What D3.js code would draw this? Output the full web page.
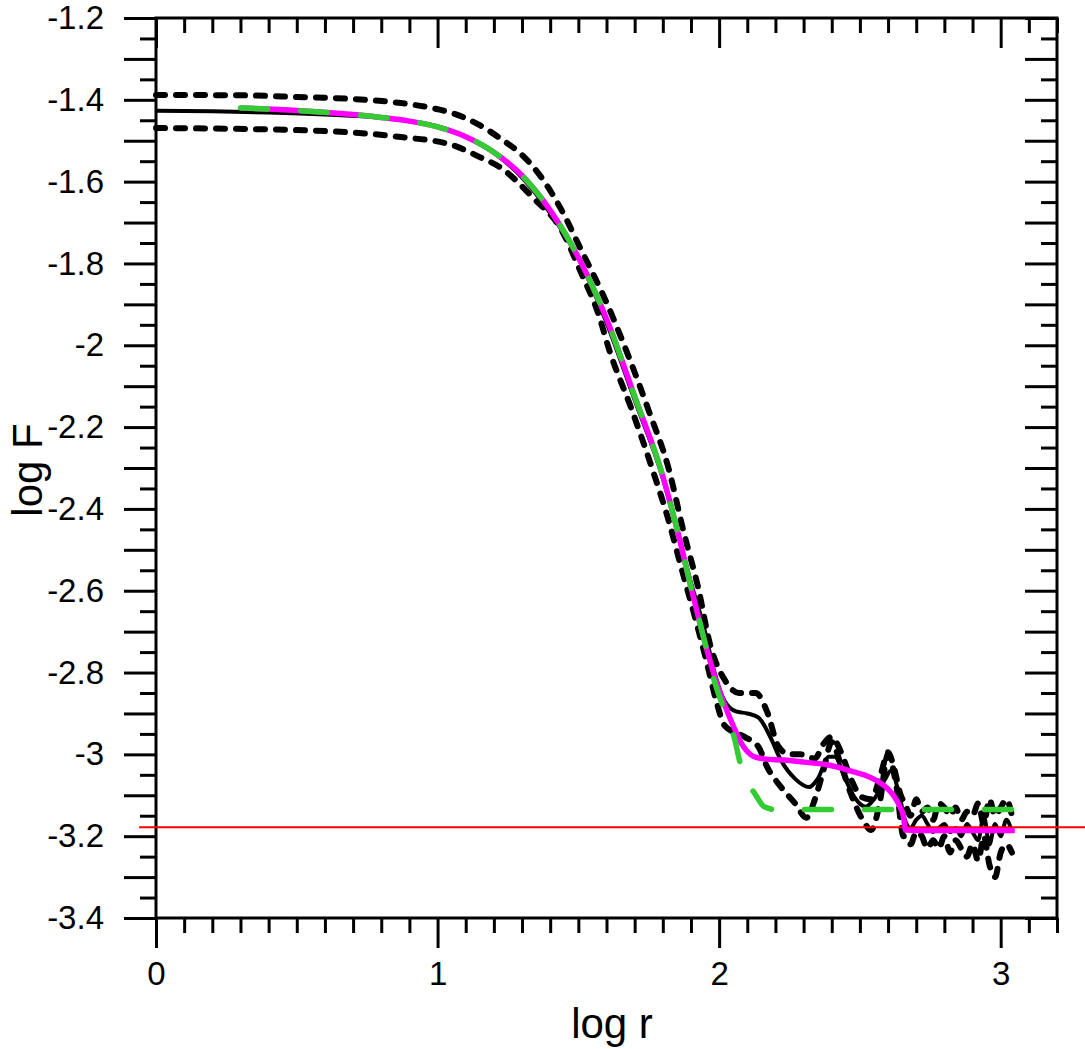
<!DOCTYPE html>
<html>
<head>
<meta charset="utf-8">
<script src="https://cdn.jsdelivr.net/npm/d3@7"></script>
<style>
  body { margin: 0; background: #fff; }
  svg { display: block; }
  text { font-family: "Liberation Sans", Arial, sans-serif; fill: #000; }
</style>
</head>
<body>
<script>
// ---- data ----
var yLabelTicks = [-1.2, -1.4, -1.6, -1.8, -2, -2.2, -2.4, -2.6, -2.8, -3, -3.2, -3.4];
var xLabelTicks = [0, 1, 2, 3];

var tailX = [2.66, 2.68, 2.70, 2.72, 2.74, 2.76, 2.78, 2.80, 2.82, 2.84, 2.86, 2.88, 2.90, 2.92, 2.94, 2.96, 2.98, 3.00, 3.02, 3.04];

// solid black
var centerX = [0, 0.2, 0.4, 0.6, 0.8, 0.9, 1.0, 1.1, 1.2, 1.3, 1.4, 1.5, 1.6, 1.7, 1.8, 1.85, 1.9, 1.95, 1.98, 2.02, 2.06, 2.1, 2.14, 2.18, 2.22, 2.27, 2.32, 2.35, 2.39, 2.41, 2.45, 2.48, 2.52, 2.55, 2.59, 2.61, 2.64].concat(tailX);
var centerY = [-1.427, -1.428, -1.431, -1.436, -1.444, -1.452, -1.465, -1.49, -1.53, -1.59, -1.677, -1.787, -1.945, -2.134, -2.325, -2.45, -2.58, -2.7, -2.79, -2.87, -2.895, -2.9, -2.91, -2.955, -3.015, -3.06, -3.08, -3.06, -3.006, -3.006, -3.063, -3.104, -3.128, -3.11, -3.06, -3.04, -3.1,
  -3.16, -3.18, -3.16, -3.15, -3.17, -3.19, -3.18, -3.17, -3.19, -3.18, -3.2, -3.17, -3.19, -3.21, -3.15, -3.22, -3.17, -3.2, -3.16, -3.19];

// upper dotted
var upperX = [0, 0.3, 0.5, 0.7, 0.87, 1.0, 1.05, 1.15, 1.22, 1.3, 1.34, 1.44, 1.51, 1.59, 1.68, 1.75, 1.82, 1.875, 1.925, 1.97, 2.02, 2.07, 2.13, 2.17, 2.21, 2.25, 2.29, 2.34, 2.37, 2.4, 2.43, 2.47, 2.505, 2.54, 2.575, 2.6, 2.62, 2.645].concat(tailX);
var upperY = [-1.388, -1.389, -1.393, -1.398, -1.408, -1.423, -1.432, -1.462, -1.493, -1.535, -1.564, -1.669, -1.767, -1.88, -2.03, -2.16, -2.3, -2.459, -2.591, -2.737, -2.818, -2.85, -2.85, -2.895, -2.98, -3.0, -3.0, -3.01, -2.975, -2.957, -2.99, -3.063, -3.104, -3.11, -3.046, -2.995, -3.03, -3.1,
  -3.12, -3.15, -3.11, -3.14, -3.13, -3.16, -3.12, -3.13, -3.15, -3.13, -3.16, -3.14, -3.15, -3.12, -3.17, -3.11, -3.15, -3.13, -3.11, -3.15];

// lower dotted
var lowerX = [0, 0.5, 0.87, 1.05, 1.15, 1.22, 1.34, 1.44, 1.51, 1.57, 1.61, 1.69, 1.76, 1.82, 1.865, 1.91, 1.96, 1.99, 2.02, 2.09, 2.14, 2.17, 2.22, 2.27, 2.31, 2.34, 2.37, 2.4, 2.43, 2.47, 2.51, 2.54, 2.57, 2.6, 2.63, 2.655].concat(tailX);
var lowerY = [-1.469, -1.474, -1.491, -1.51, -1.54, -1.564, -1.64, -1.718, -1.823, -1.921, -2.012, -2.158, -2.297, -2.427, -2.542, -2.654, -2.786, -2.87, -2.93, -2.957, -2.982, -3.03, -3.08, -3.12, -3.155, -3.11, -3.04, -2.97, -3.02, -3.1, -3.16, -3.185, -3.12, -3.0, -3.08, -3.2,
  -3.2, -3.22, -3.19, -3.2, -3.23, -3.21, -3.23, -3.2, -3.24, -3.21, -3.23, -3.25, -3.22, -3.26, -3.2, -3.27, -3.3, -3.24, -3.22, -3.24];

// magenta fit
var fitX = [0.3, 0.5, 0.7, 0.8, 0.9, 1.0, 1.1, 1.2, 1.3, 1.4, 1.5, 1.6, 1.7, 1.8, 1.854, 1.9, 1.947, 1.996, 2.02, 2.05, 2.078, 2.1, 2.125, 2.16, 2.231, 2.3, 2.388, 2.48, 2.53, 2.566, 2.6, 2.623, 2.64, 2.655, 2.662, 2.7, 3.05];
var fitY = [-1.42, -1.426, -1.436, -1.443, -1.452, -1.466, -1.49, -1.528, -1.585, -1.67, -1.785, -1.935, -2.125, -2.32, -2.459, -2.591, -2.72, -2.835, -2.88, -2.93, -2.972, -2.993, -3.006, -3.011, -3.014, -3.019, -3.026, -3.043, -3.054, -3.067, -3.085, -3.104, -3.125, -3.153, -3.185, -3.186, -3.186];

// green dashed model
var modelX = [0.3, 0.5, 0.7, 0.8, 0.9, 1.0, 1.1, 1.2, 1.3, 1.4, 1.5, 1.6, 1.7, 1.8, 1.854, 1.9, 1.947, 1.982, 2.018, 2.053, 2.078, 2.1, 2.125, 2.16, 2.21, 2.3, 3.05];
var modelY = [-1.42, -1.426, -1.436, -1.443, -1.452, -1.466, -1.49, -1.528, -1.585, -1.67, -1.785, -1.935, -2.125, -2.32, -2.459, -2.591, -2.72, -2.818, -2.891, -2.957, -3.03, -3.07, -3.094, -3.128, -3.136, -3.135, -3.135];

var refLevel = -3.178;
var refSpan = [-0.06, 3.3];

// ---- layout ----
var W = 1085, H = 1049;
var x = d3.scaleLinear().domain([0, 3.2]).range([156, 1057]);
var y = d3.scaleLinear().domain([-1.2, -3.4]).range([18, 918]);

var svg = d3.select('body').append('svg')
  .attr('width', W)
  .attr('height', H);

function zip(xs, ys) { return xs.map(function(v, i) { return [v, ys[i]]; }); }

var line = d3.line()
  .x(function(d) { return x(d[0]); })
  .y(function(d) { return y(d[1]); })
  .curve(d3.curveMonotoneX);

var tickFont = '33px';

// minor / major tick value lists
var yMajor = d3.range(0, 23).map(function(i) { return +(-1.2 - i * 0.1).toFixed(2); });
var yMinor = d3.range(0, 22).map(function(i) { return +(-1.25 - i * 0.1).toFixed(2); });
var xMinor = d3.range(0, 33).map(function(i) { return +(i * 0.1).toFixed(2); }).filter(function(v) { return v % 1 !== 0; });

function fmtY(d) {
  return yLabelTicks.indexOf(d) >= 0 ? String(d) : '';
}

function styleAxis(g) {
  g.select('.domain').remove();
  g.selectAll('line').attr('stroke', '#000').attr('stroke-width', 3);
  g.selectAll('text').style('font-size', tickFont).attr('fill', '#000');
}

// left axis (ticks outward)
svg.append('g').attr('transform', 'translate(156,0)')
  .call(d3.axisLeft(y).tickValues(yMajor).tickSize(32).tickPadding(20).tickFormat(fmtY))
  .call(styleAxis);
svg.append('g').attr('transform', 'translate(156,0)')
  .call(d3.axisLeft(y).tickValues(yMinor).tickSize(16).tickFormat(''))
  .call(styleAxis);

// right axis (ticks inward)
svg.append('g').attr('transform', 'translate(1057,0)')
  .call(d3.axisLeft(y).tickValues(yMajor).tickSize(32).tickFormat(''))
  .call(styleAxis);
svg.append('g').attr('transform', 'translate(1057,0)')
  .call(d3.axisLeft(y).tickValues(yMinor).tickSize(16).tickFormat(''))
  .call(styleAxis);

// bottom axis (ticks outward)
svg.append('g').attr('transform', 'translate(0,918)')
  .call(d3.axisBottom(x).tickValues(xLabelTicks).tickSize(30).tickPadding(14).tickFormat(d3.format('d')))
  .call(styleAxis);
svg.append('g').attr('transform', 'translate(0,918)')
  .call(d3.axisBottom(x).tickValues(xMinor).tickSize(15).tickFormat(''))
  .call(styleAxis);

// top axis (ticks inward)
svg.append('g').attr('transform', 'translate(0,18)')
  .call(d3.axisBottom(x).tickValues(xLabelTicks).tickSize(30).tickFormat(''))
  .call(styleAxis);
svg.append('g').attr('transform', 'translate(0,18)')
  .call(d3.axisBottom(x).tickValues(xMinor).tickSize(15).tickFormat(''))
  .call(styleAxis);

// frame
svg.append('rect')
  .attr('x', x(0)).attr('y', y(-1.2))
  .attr('width', x(3.2) - x(0)).attr('height', y(-3.4) - y(-1.2))
  .attr('fill', 'none').attr('stroke', '#000').attr('stroke-width', 3);

// curves
var curves = svg.append('g');

curves.append('path').datum(zip(upperX, upperY))
  .attr('d', line).attr('fill', 'none').attr('stroke', '#000')
  .attr('stroke-width', 6).attr('stroke-linecap', 'round').attr('stroke-dasharray', '9,11');

curves.append('path').datum(zip(lowerX, lowerY))
  .attr('d', line).attr('fill', 'none').attr('stroke', '#000')
  .attr('stroke-width', 6).attr('stroke-linecap', 'round').attr('stroke-dasharray', '9,11');

curves.append('path').datum(zip(centerX, centerY))
  .attr('d', line).attr('fill', 'none').attr('stroke', '#000')
  .attr('stroke-width', 4);

curves.append('line')
  .attr('x1', x(refSpan[0])).attr('x2', x(refSpan[1]))
  .attr('y1', y(refLevel)).attr('y2', y(refLevel))
  .attr('stroke', '#ff0000').attr('stroke-width', 2);

curves.append('path').datum(zip(fitX, fitY))
  .attr('d', line).attr('fill', 'none').attr('stroke', '#ff00ff')
  .attr('stroke-width', 5.5);

curves.append('path').datum(zip(modelX, modelY))
  .attr('d', line).attr('fill', 'none').attr('stroke', '#33cc33')
  .attr('stroke-width', 5.5).attr('stroke-linecap', 'round').attr('stroke-dasharray', '27,33');

// axis titles
svg.append('text')
  .attr('transform', 'translate(42,470) rotate(-90)')
  .attr('text-anchor', 'middle')
  .style('font-size', '42px')
  .text('log F');

svg.append('text')
  .attr('x', 612).attr('y', 1038)
  .attr('text-anchor', 'middle')
  .style('font-size', '42px')
  .text('log r');
</script>
</body>
</html>
